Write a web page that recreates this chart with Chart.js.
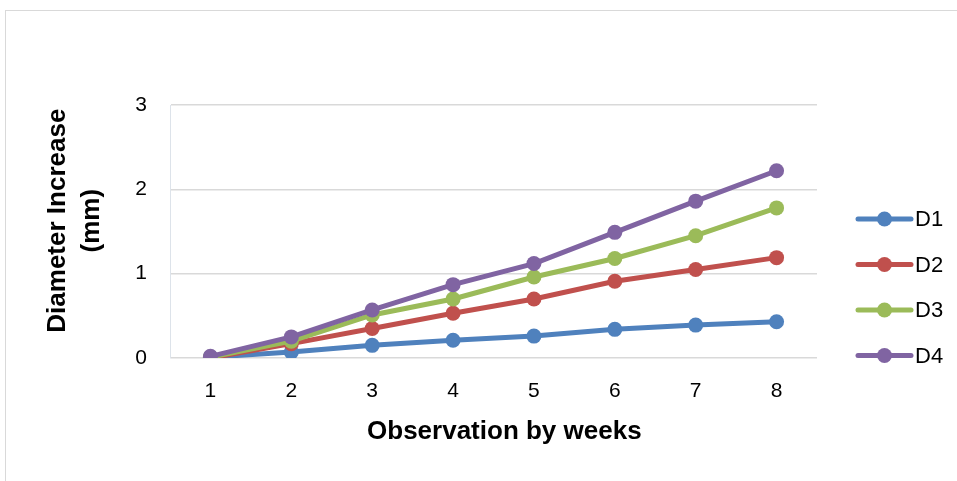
<!DOCTYPE html>
<html>
<head>
<meta charset="utf-8">
<script src="https://cdn.jsdelivr.net/npm/chart.js@4.4.0/dist/chart.umd.min.js"></script>
<style>
  html, body { margin: 0; padding: 0; background: #fff; }
  #wrap { position: relative; width: 957px; height: 481px; overflow: hidden; }
  #frame { position: absolute; left: 5px; top: 10px; width: 1000px; height: 520px; border: 1px solid #d9d9d9; }
  #chart { position: absolute; left: 0; top: 0; }
</style>
</head>
<body>
<div id="wrap">
  <div id="frame"></div>
  <canvas id="chart" width="957" height="481"></canvas>
</div>
<script>
// weeks on the x axis
const weeks = ["1", "2", "3", "4", "5", "6", "7", "8"];
// series values (mm)
const d1 = [0.01, 0.07, 0.15, 0.21, 0.26, 0.34, 0.39, 0.43];
const d2 = [0.0, 0.17, 0.35, 0.53, 0.70, 0.91, 1.05, 1.19];
const d3 = [0.01, 0.20, 0.51, 0.70, 0.96, 1.18, 1.45, 1.78];
const d4 = [0.02, 0.25, 0.57, 0.87, 1.12, 1.49, 1.86, 2.22];
const seriesNames = ["D1", "D2", "D3", "D4"];
const seriesColors = ["#4F81BD", "#C0504D", "#9BBB59", "#8064A2"];

const font = "'Liberation Sans', Arial, sans-serif";

function makeSet(i, data) {
    return {
        label: seriesNames[i],
        data: data,
        borderColor: seriesColors[i],
        backgroundColor: seriesColors[i],
        borderWidth: 5,
        pointRadius: 7.5,
        pointHoverRadius: 7.5,
        pointBorderWidth: 0,
        tension: 0,
        order: 3 - i
    };
}

// legend drawn by hand: line with dot + label
const sideLegend = {
    id: "sideLegend",
    afterDraw(chart) {
        const ctx = chart.ctx;
        ctx.save();
        chart.data.datasets.forEach((ds, i) => {
            const y = 219 + i * 45.5;
            ctx.strokeStyle = ds.borderColor;
            ctx.lineWidth = 5;
            ctx.lineCap = "round";
            ctx.beginPath();
            ctx.moveTo(858, y);
            ctx.lineTo(911, y);
            ctx.stroke();
            ctx.fillStyle = ds.borderColor;
            ctx.beginPath();
            ctx.arc(884.5, y, 7.5, 0, Math.PI * 2);
            ctx.fill();
            ctx.fillStyle = "#000";
            ctx.font = "22px " + font;
            ctx.textBaseline = "middle";
            ctx.fillText(ds.label, 915, y + 1);
        });
        ctx.restore();
    }
};

new Chart(document.getElementById("chart"), {
    type: "line",
    data: {
        labels: weeks,
        datasets: [makeSet(0, d1), makeSet(1, d2), makeSet(2, d3), makeSet(3, d4)]
    },
    options: {
        responsive: false,
        animation: false,
        layout: { padding: { left: 41, right: 140, top: 105, bottom: 22 } },
        plugins: {
            legend: { display: false },
            tooltip: { enabled: false }
        },
        scales: {
            x: {
                offset: true,
                grid: { display: false, drawTicks: false },
                border: { display: false },
                ticks: { color: "#000", font: { family: font, size: 21 }, padding: 21 },
                title: {
                    display: true,
                    // leading spaces nudge the title right, as in the original
                    text: "   Observation by weeks",
                    color: "#000",
                    font: { family: font, size: 26, weight: "bold" },
                    padding: { top: 0, bottom: 12 }
                },
                afterFit(scale) { scale.height = 101; }
            },
            y: {
                min: 0,
                max: 3,
                ticks: { stepSize: 1, color: "#000", font: { family: font, size: 21 }, padding: 23 },
                grid: { color: "#d9d9d9", lineWidth: 1.5, drawTicks: false },
                border: { display: true, color: "#dde3ea", width: 1 },
                title: {
                    display: true,
                    text: ["   Diameter Increase", "   (mm)"],
                    color: "#000",
                    font: { family: font, size: 26, weight: "bold", lineHeight: 1.3 },
                    padding: 0
                },
                afterFit(scale) { scale.width = 129; }
            }
        }
    },
    plugins: [sideLegend]
});
</script>
</body>
</html>
